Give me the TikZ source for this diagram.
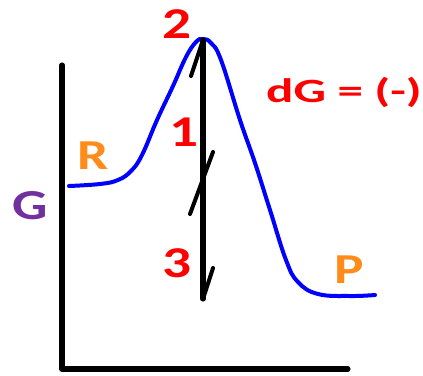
\documentclass[tikz,border=0pt]{standalone}
\usepackage{fontspec}
\newfontfamily\labA{Carlito}[FakeStretch=1.3]
\newfontfamily\labB{Carlito}[FakeStretch=1.5]
\definecolor{myred}{RGB}{255,0,0}
\definecolor{myorange}{RGB}{255,140,26}
\definecolor{mypurple}{RGB}{112,48,160}
\definecolor{myblue}{RGB}{0,0,255}
\tikzset{
  axisline/.style={line width=3.8pt, line cap=round, line join=round, black},
  curveline/.style={line width=3pt, line cap=round, myblue},
  arrowline/.style={line width=3.8pt, line cap=round, black},
  barbline/.style={line width=3pt, line cap=round, black},
  numlabel/.style={inner sep=0pt, text=myred, font=\labA\bfseries\fontsize{33}{33}\selectfont},
  letlabel/.style={inner sep=0pt, font=\labA\bfseries\fontsize{32}{32}\selectfont},
  eqlabel/.style={inner sep=0pt, text=myred, font=\labB\bfseries\fontsize{25.5}{25.5}\selectfont}
}
\begin{document}
\begin{tikzpicture}[x=0.75pt,y=-0.75pt]
\useasboundingbox (0,0) rectangle (423,375);
% axes
\coordinate (ytop) at (62,65);
\coordinate (origin) at (62,369);
\coordinate (xend) at (348,369);
\draw[axisline] (ytop) -- (origin) -- (xend);
% energy curve
\draw[curveline] plot[smooth, tension=0.7] coordinates {
 (69,186) (100,184) (118,180) (131,171) (142,155) (157,120) (173,86) (186,57) (196,42) (203,39)
 (211,43) (221,60) (240,120) (255,163) (270,210) (286,260) (298,282) (318,294) (350,296) (375,295)};
% vertical arrow with barbs
\coordinate (top) at (203,40);
\coordinate (bot) at (203,299);
\coordinate (topbarb) at (191,76);
\coordinate (botbarb) at (213,268);
\coordinate (zA) at (213,152);
\coordinate (zB) at (190,214);
\draw[arrowline] (top) -- (bot);
\draw[barbline] (top) -- (topbarb);
\draw[barbline] (bot) -- (botbarb);
\draw[barbline] (zA) -- (zB);
% labels
\node[numlabel] (n2) at (177,24) {2};
\node[numlabel] (n1) at (184,132) {1};
\node[numlabel] (n3) at (177,263) {3};
\node[letlabel, text=mypurple] (G) at (30,206) {G};
\node[letlabel, text=myorange] (R) at (93,156) {R};
\node[letlabel, text=myorange] (P) at (349,270) {P};
\node[eqlabel] (eq) at (344,92) {dG = (-)};
\end{tikzpicture}
\end{document}
